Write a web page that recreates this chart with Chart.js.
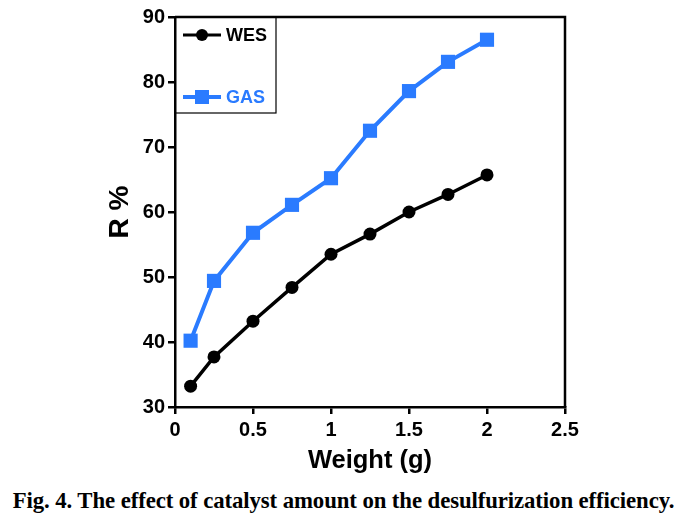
<!DOCTYPE html>
<html>
<head>
<meta charset="utf-8">
<script src="https://cdn.jsdelivr.net/npm/chart.js@4"></script>
<style>
  html, body { margin: 0; padding: 0; background: #fff; }
  #wrap { width: 687px; height: 480px; position: relative; }
  #caption { width: 687px; text-align: center; font-family: "Liberation Serif", "Times New Roman", serif;
    font-weight: bold; font-size: 22.8px; margin-top: 8px; color: #000; white-space: nowrap; letter-spacing: -0.1px; }
</style>
</head>
<body>
<div id="wrap"><canvas id="c"></canvas></div>
<div id="caption">Fig. 4. The effect of catalyst amount on the desulfurization efficiency.</div>
<script>
// weight in g
const weights = [0.1, 0.25, 0.5, 0.75, 1, 1.25, 1.5, 1.75, 2];
const wesVals = [33.2, 37.7, 43.2, 48.4, 53.5, 56.6, 60.0, 62.7, 65.7];
const gasVals = [40.2, 49.4, 56.8, 61.1, 65.2, 72.5, 78.6, 83.1, 86.5];
const blue = '#2a7bff';

const pts = (ys) => weights.map((x, i) => ({ x: x, y: ys[i] }));

// box around the plot + legend box inside top-left
const frame = {
  id: 'frame',
  afterDraw(chart) {
    const { ctx, chartArea: a } = chart;
    ctx.save();
    ctx.strokeStyle = '#000';
    ctx.lineWidth = 2.5;
    ctx.beginPath();
    ctx.moveTo(a.left, a.top);
    ctx.lineTo(a.right, a.top);
    ctx.lineTo(a.right, a.bottom);
    ctx.stroke();

    // legend
    const lx = a.left, ly = a.top;
    ctx.lineWidth = 1.2;
    ctx.strokeRect(lx, ly, 101, 96);
    ctx.font = 'bold 18px "Liberation Sans", Arial, sans-serif';
    ctx.textBaseline = 'middle';

    ctx.strokeStyle = '#000'; ctx.lineWidth = 3;
    ctx.beginPath(); ctx.moveTo(lx + 8, ly + 18); ctx.lineTo(lx + 46, ly + 18); ctx.stroke();
    ctx.fillStyle = '#000';
    ctx.beginPath(); ctx.arc(lx + 27, ly + 18, 6, 0, Math.PI * 2); ctx.fill();
    ctx.fillText('WES', lx + 51, ly + 19);

    ctx.strokeStyle = blue; ctx.lineWidth = 4;
    ctx.beginPath(); ctx.moveTo(lx + 8, ly + 80); ctx.lineTo(lx + 46, ly + 80); ctx.stroke();
    ctx.fillStyle = blue;
    ctx.fillRect(lx + 20, ly + 73, 14, 14);
    ctx.fillText('GAS', lx + 51, ly + 81);
    ctx.restore();
  }
};

const tickFont = { family: '"Liberation Sans", Arial, sans-serif', size: 20, weight: 'bold' };

new Chart(document.getElementById('c'), {
  type: 'line',
  data: {
    datasets: [
      { label: 'WES', data: pts(wesVals), borderColor: '#000', backgroundColor: '#000',
        borderWidth: 3.5, pointRadius: 6.5, pointStyle: 'circle', pointBorderWidth: 0 },
      { label: 'GAS', data: pts(gasVals), borderColor: blue, backgroundColor: blue,
        borderWidth: 4, pointRadius: 10, pointStyle: 'rect', pointBorderWidth: 0 }
    ]
  },
  options: {
    responsive: true,
    maintainAspectRatio: false,
    animation: false,
    layout: { padding: { top: 17, right: 122, left: 103, bottom: 0 } },
    plugins: { legend: { display: false }, tooltip: { enabled: false } },
    scales: {
      x: {
        type: 'linear', min: 0, max: 2.5,
        ticks: { stepSize: 0.5, color: '#000', font: tickFont, padding: 4, maxRotation: 0,
          callback: (v) => String(v) },
        grid: { drawOnChartArea: false, drawTicks: true, tickLength: 7, color: '#000', lineWidth: 2.5 },
        border: { color: '#000', width: 2.5 },
        title: { display: true, text: 'Weight (g)', color: '#000', padding: { top: 2 },
          font: { family: '"Liberation Sans", Arial, sans-serif', size: 25.5, weight: 'bold' } },
        afterFit(s) { s.height = 73; }
      },
      y: {
        min: 30, max: 90,
        ticks: { stepSize: 10, color: '#000', font: tickFont, padding: 3 },
        grid: { drawOnChartArea: false, drawTicks: true, tickLength: 7, color: '#000', lineWidth: 2.5 },
        border: { color: '#000', width: 2.5 },
        title: { display: true, text: 'R %', color: '#000', padding: { top: 0, bottom: 0 },
          font: { family: '"Liberation Sans", Arial, sans-serif', size: 28, weight: 'bold' } },
        afterFit(s) { s.width = 72; }
      }
    }
  },
  plugins: [frame]
});
</script>
</body>
</html>
